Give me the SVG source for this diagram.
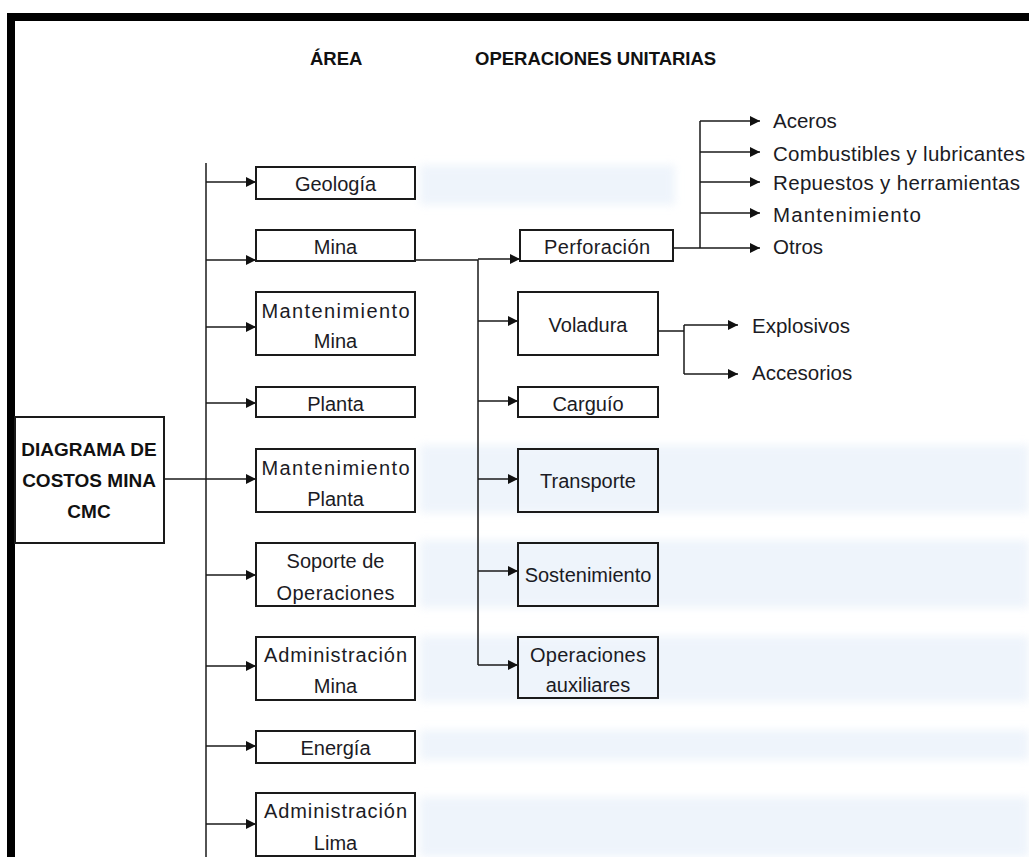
<svg xmlns="http://www.w3.org/2000/svg" width="1029" height="857" viewBox="0 0 1029 857">
  <defs>
    <marker id="arrow" markerUnits="userSpaceOnUse" markerWidth="11" markerHeight="11" refX="10" refY="5" orient="auto">
      <path d="M0,0 L10,5 L0,10 Z" fill="#111"/>
    </marker>
    <filter id="soft" x="-5%" y="-30%" width="110%" height="160%">
      <feGaussianBlur stdDeviation="4"/>
    </filter>
    <style>
      .box { fill: none; stroke: #1a1a1a; stroke-width: 2; }
      .lbl { font-family: "Liberation Sans", Arial, sans-serif; font-size: 20px; fill: #1b1b24; text-anchor: middle; }
      .item { font-family: "Liberation Sans", Arial, sans-serif; font-size: 20.5px; fill: #1b1b24; }
      .head { font-family: "Liberation Sans", Arial, sans-serif; font-size: 18.5px; font-weight: bold; fill: #111; }
      .root { font-family: "Liberation Sans", Arial, sans-serif; font-size: 19px; font-weight: bold; fill: #111; text-anchor: middle; }
      .wire { fill: none; stroke: #1a1a1a; stroke-width: 1.5; }
      .arr { fill: none; stroke: #1a1a1a; stroke-width: 1.5; marker-end: url(#arrow); }
      .band { fill: #e9f1fa; }
    </style>
  </defs>

  <rect width="1029" height="857" fill="#fff"/>

  <!-- pale background shading -->
  <g id="shading" filter="url(#soft)" opacity="0.75">
    <rect class="band" x="420" y="165" width="255" height="40"/>
    <rect class="band" x="420" y="445" width="609" height="68"/>
    <rect class="band" x="420" y="540" width="609" height="68"/>
    <rect class="band" x="420" y="636" width="609" height="66"/>
    <rect class="band" x="420" y="730" width="609" height="30"/>
    <rect class="band" x="420" y="797" width="609" height="60"/>
  </g>

  <!-- page frame -->
  <g id="frame">
    <rect x="7" y="13" width="1022" height="8" fill="#000"/>
    <rect x="7" y="13" width="8" height="844" fill="#000"/>
  </g>

  <!-- column headings -->
  <text class="head" x="310" y="65">ÁREA</text>
  <text class="head" x="475" y="65">OPERACIONES UNITARIAS</text>

  <!-- connectors -->
  <g id="connectors">
    <!-- root to area trunk -->
    <path class="wire" d="M164,479 H206"/>
    <path class="wire" d="M206,163 V857"/>
    <path class="arr" d="M206,182 H256"/>
    <path class="arr" d="M206,260 H256"/>
    <path class="arr" d="M206,327 H256"/>
    <path class="arr" d="M206,403 H256"/>
    <path class="arr" d="M206,479 H256"/>
    <path class="arr" d="M206,575 H256"/>
    <path class="arr" d="M206,666 H256"/>
    <path class="arr" d="M206,746 H256"/>
    <path class="arr" d="M206,824 H256"/>

    <!-- Mina to unit operations -->
    <path class="wire" d="M415,260 H478 V665"/>
    <path class="arr" d="M478,259 H520"/>
    <path class="arr" d="M478,321 H518"/>
    <path class="arr" d="M478,401 H518"/>
    <path class="arr" d="M478,479 H518"/>
    <path class="arr" d="M478,571 H518"/>
    <path class="arr" d="M478,665 H518"/>

    <!-- Perforación cost items -->
    <path class="wire" d="M673,248 H700 M700,121 V248"/>
    <path class="arr" d="M700,121 H760"/>
    <path class="arr" d="M700,152 H760"/>
    <path class="arr" d="M700,182 H760"/>
    <path class="arr" d="M700,213 H760"/>
    <path class="arr" d="M700,248 H760"/>

    <!-- Voladura cost items -->
    <path class="wire" d="M658,331 H684 M684,325 V374"/>
    <path class="arr" d="M684,325 H738"/>
    <path class="arr" d="M684,374 H738"/>
  </g>

  <!-- root node -->
  <g id="root">
    <rect class="box" x="15" y="417" width="149" height="126"/>
    <text class="root" x="89" y="456">DIAGRAMA DE</text>
    <text class="root" x="89" y="487">COSTOS MINA</text>
    <text class="root" x="89" y="518">CMC</text>
  </g>

  <!-- area nodes -->
  <g id="geologia">
    <rect class="box" x="256" y="167" width="159" height="32"/>
    <text class="lbl" x="335.5" y="191">Geología</text>
  </g>
  <g id="mina">
    <rect class="box" x="256" y="230" width="159" height="31"/>
    <text class="lbl" x="335.5" y="254">Mina</text>
  </g>
  <g id="mantenimiento-mina">
    <rect class="box" x="256" y="292" width="159" height="63"/>
    <text class="lbl" x="335.5" y="318" textLength="148" lengthAdjust="spacing">Mantenimiento</text>
    <text class="lbl" x="335.5" y="348">Mina</text>
  </g>
  <g id="planta">
    <rect class="box" x="256" y="387" width="159" height="30"/>
    <text class="lbl" x="335.5" y="411">Planta</text>
  </g>
  <g id="mantenimiento-planta">
    <rect class="box" x="256" y="449" width="159" height="63"/>
    <text class="lbl" x="335.5" y="475" textLength="148" lengthAdjust="spacing">Mantenimiento</text>
    <text class="lbl" x="335.5" y="506">Planta</text>
  </g>
  <g id="soporte-operaciones">
    <rect class="box" x="256" y="543" width="159" height="63"/>
    <text class="lbl" x="335.5" y="568">Soporte de</text>
    <text class="lbl" x="335.5" y="600" textLength="118" lengthAdjust="spacing">Operaciones</text>
  </g>
  <g id="administracion-mina">
    <rect class="box" x="256" y="637" width="159" height="63"/>
    <text class="lbl" x="335.5" y="662" textLength="143" lengthAdjust="spacing">Administración</text>
    <text class="lbl" x="335.5" y="693">Mina</text>
  </g>
  <g id="energia">
    <rect class="box" x="256" y="731" width="159" height="32"/>
    <text class="lbl" x="335.5" y="755">Energía</text>
  </g>
  <g id="administracion-lima">
    <rect class="box" x="256" y="793" width="159" height="63"/>
    <text class="lbl" x="335.5" y="818" textLength="143" lengthAdjust="spacing">Administración</text>
    <text class="lbl" x="335.5" y="850">Lima</text>
  </g>

  <!-- unit operation nodes -->
  <g id="perforacion">
    <rect class="box" x="520" y="230" width="153" height="31"/>
    <text class="lbl" x="597" y="254" textLength="106" lengthAdjust="spacing">Perforación</text>
  </g>
  <g id="voladura">
    <rect class="box" x="518" y="292" width="140" height="63"/>
    <text class="lbl" x="588" y="332">Voladura</text>
  </g>
  <g id="carguio">
    <rect class="box" x="518" y="387" width="140" height="30"/>
    <text class="lbl" x="588" y="411">Carguío</text>
  </g>
  <g id="transporte">
    <rect class="box" x="518" y="449" width="140" height="63"/>
    <text class="lbl" x="588" y="488">Transporte</text>
  </g>
  <g id="sostenimiento">
    <rect class="box" x="518" y="543" width="140" height="63"/>
    <text class="lbl" x="588" y="582">Sostenimiento</text>
  </g>
  <g id="operaciones-auxiliares">
    <rect class="box" x="518" y="637" width="140" height="61"/>
    <text class="lbl" x="588" y="662" textLength="116" lengthAdjust="spacing">Operaciones</text>
    <text class="lbl" x="588" y="692">auxiliares</text>
  </g>

  <!-- cost item labels -->
  <g id="items-perforacion">
    <text class="item" x="773" y="128">Aceros</text>
    <text class="item" x="773" y="161" textLength="252" lengthAdjust="spacing">Combustibles y lubricantes</text>
    <text class="item" x="773" y="190" textLength="247" lengthAdjust="spacing">Repuestos y herramientas</text>
    <text class="item" x="773" y="222" textLength="148" lengthAdjust="spacing">Mantenimiento</text>
    <text class="item" x="773" y="254">Otros</text>
  </g>
  <g id="items-voladura">
    <text class="item" x="752" y="333">Explosivos</text>
    <text class="item" x="752" y="380">Accesorios</text>
  </g>
</svg>
